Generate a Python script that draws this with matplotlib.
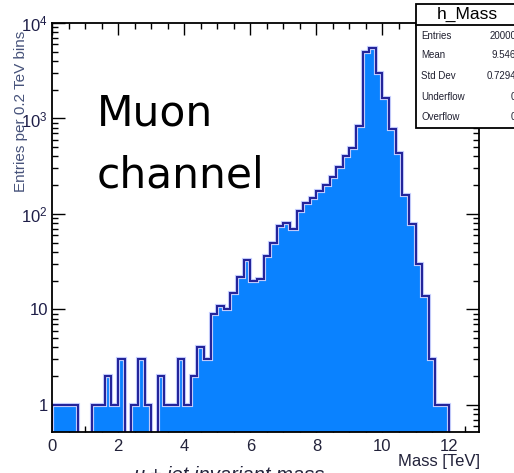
import numpy as np
import matplotlib.pyplot as plt
from matplotlib.patches import Rectangle
from matplotlib.lines import Line2D
from matplotlib.ticker import FixedLocator, FixedFormatter, LogLocator, NullFormatter, MultipleLocator

plt.rcParams['font.family'] = ['Liberation Sans', 'DejaVu Sans']
plt.rcParams['mathtext.fontset'] = 'custom'
plt.rcParams['mathtext.rm'] = 'Liberation Sans'

# h_Mass: mu + jet invariant mass, 0.2 TeV bins from 0 to 12 TeV
bin_width = 0.2
counts = [1, 1, 1, 1, 0, 0, 1, 1, 2, 1,
          3, 0, 1, 3, 1, 0, 2, 1, 1, 3,
          1, 2, 4, 3, 9, 11, 10, 15, 22, 33,
          20, 21, 36, 50, 75, 80, 70, 108, 131, 146,
          175, 200, 242, 313, 400, 488, 835, 5000, 5450, 2960,
          1620, 771, 432, 158, 78, 30, 14, 3, 1, 1]

y_ticks = [1, 10, 100, 1000, 10000]
y_ticklabels = ['1', '10', r'$\mathregular{10^{2}}$', r'$\mathregular{10^{3}}$', r'$\mathregular{10^{4}}$']

stat_names = ['Entries', 'Mean', 'Std Dev', 'Underflow', 'Overflow']
stat_values = ['20000', '9.546', '0.7294', '0', '0']

W, H = 514, 473
def fx(px):
    return px / W
def fy(py):
    return 1 - py / H

fig = plt.figure(figsize=(W / 100, H / 100), dpi=100)
ax = fig.add_axes([fx(52), fy(432), fx(479) - fx(52), fy(23) - fy(432)])

edges = bin_width * np.arange(len(counts) + 1)
vals = np.array(counts, dtype=float)

ax.stairs(vals, edges, fill=True, baseline=1e-3, color='#0a82ff', zorder=2)
ax.stairs(vals, edges, baseline=1e-3, color='#c8d0ff', lw=3.0, zorder=3)
ax.stairs(vals, edges, baseline=1e-3, color='#24249a', lw=1.5, zorder=4)

ax.set_yscale('log')
ax.set_xlim(0, 12.92)
ax.set_ylim(0.521, 1e4)

ax.xaxis.set_major_locator(MultipleLocator(2))
ax.xaxis.set_minor_locator(MultipleLocator(0.5))
ax.yaxis.set_major_locator(FixedLocator(y_ticks))
ax.yaxis.set_major_formatter(FixedFormatter(y_ticklabels))
ax.yaxis.set_minor_locator(LogLocator(base=10, subs=np.arange(2, 10)))
ax.yaxis.set_minor_formatter(NullFormatter())

ax.tick_params(which='both', direction='in', top=True, right=True, color='black', width=1.0)
ax.tick_params(axis='x', which='major', length=8.5, pad=5, labelsize=12, labelcolor='#22223a')
ax.tick_params(axis='x', which='minor', length=4.3)
ax.tick_params(axis='y', which='major', length=9.5, pad=3, labelsize=12, labelcolor='#1e1e48')
ax.tick_params(axis='y', which='minor', length=4.5)
for s in ax.spines.values():
    s.set_linewidth(1.3)
    s.set_zorder(5)

fig.text(fx(21), fy(111), 'Entries per 0.2 TeV bins', rotation=90, ha='center', va='center',
         fontsize=11, color='#46527a')
fig.text(fx(480), fy(466), 'Mass [TeV]', ha='right', va='baseline', fontsize=12, color='#22223a')
fig.text(fx(133), fy(481), 'μ + jet invariant mass', ha='left', va='baseline', fontsize=14.5,
         style='italic', color='#22223a')

# label typed on top of the plot
fig.text(fx(97), fy(125), 'Muon', ha='left', va='baseline', fontsize=30.5,
         family='DejaVu Sans', color='black')
fig.text(fx(97), fy(187), 'channel', ha='left', va='baseline', fontsize=30.5,
         family='DejaVu Sans', color='black')

# stats box in the top-right corner
box = Rectangle((fx(415.7), fy(127.7)), fx(540) - fx(415.7), fy(4) - fy(127.7),
                transform=fig.transFigure, facecolor='white', edgecolor='black', lw=1.3, zorder=10)
fig.add_artist(box)
fig.add_artist(Line2D([fx(415.7), fx(540)], [fy(25), fy(25)], transform=fig.transFigure,
                      color='black', lw=1.3, zorder=11))
fig.text(fx(467), fy(14.5), 'h_Mass', ha='center', va='center', fontsize=12.5, zorder=12)
row_y = [35.7, 55, 76, 96.7, 116.7]
for name, val, py in zip(stat_names, stat_values, row_y):
    fig.text(fx(421), fy(py), name, ha='left', va='center', fontsize=7, color='#202030', zorder=12)
    fig.text(fx(516), fy(py), val, ha='right', va='center', fontsize=7, color='#202030', zorder=12)

fig.savefig('out.png', dpi=100)
